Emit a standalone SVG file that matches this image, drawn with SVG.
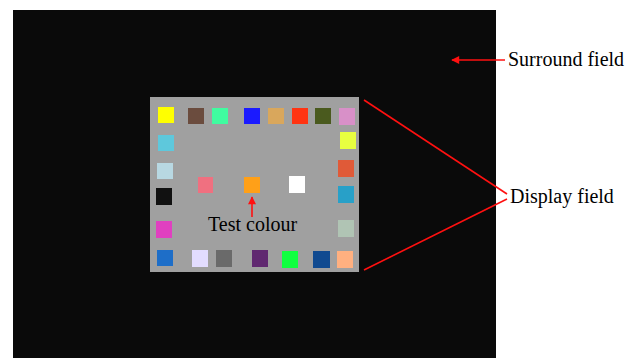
<svg xmlns="http://www.w3.org/2000/svg" width="632" height="358" viewBox="0 0 632 358">
<defs>
<marker id="ah" viewBox="0 0 10 10" refX="9" refY="5" markerWidth="10" markerHeight="8" markerUnits="userSpaceOnUse" orient="auto">
<path d="M0,0 L10,5 L0,10 z" fill="#ff1010"/>
</marker>
</defs>
<style>
.lbl{font-family:"Liberation Serif","Times New Roman",serif;font-size:20px;fill:#000}
.con{stroke:#ff1010;stroke-width:1.6;fill:none}
.sq{stroke:none}
</style>
<rect width="632" height="358" fill="#ffffff"/>
<g id="surround">
<rect x="13" y="10" width="483" height="348" fill="#0a0a0a"/>
</g>
<g id="display">
<rect x="150" y="97" width="209" height="175" fill="#a0a0a0"/>
<g class="sq">
<rect x="158" y="107" width="16" height="16" fill="#ffff00"/>
<rect x="188" y="108" width="16" height="16" fill="#6b4c3e"/>
<rect x="212" y="108" width="16" height="16" fill="#40fca0"/>
<rect x="244" y="108" width="16" height="16" fill="#1a1aff"/>
<rect x="268" y="108" width="16" height="16" fill="#d9a75c"/>
<rect x="292" y="108" width="16" height="16" fill="#ff3412"/>
<rect x="315" y="108" width="16" height="16" fill="#4a5a1e"/>
<rect x="339" y="108" width="16" height="17" fill="#d890c8"/>
<rect x="158" y="135" width="16" height="16" fill="#5ec8dc"/>
<rect x="157" y="163" width="16" height="16" fill="#b8d8e2"/>
<rect x="156" y="188" width="16" height="17" fill="#111111"/>
<rect x="156" y="221" width="16" height="17" fill="#e040c0"/>
<rect x="157" y="250" width="16" height="16" fill="#1e6ec8"/>
<rect x="192" y="250" width="16" height="17" fill="#e2dcff"/>
<rect x="216" y="250" width="16" height="17" fill="#6a6a6a"/>
<rect x="252" y="250" width="16" height="17" fill="#602870"/>
<rect x="282" y="251" width="16" height="17" fill="#10ff40"/>
<rect x="313" y="251" width="17" height="17" fill="#104a90"/>
<rect x="337" y="251" width="16" height="17" fill="#ffb080"/>
<rect x="340" y="132" width="16" height="17" fill="#e8ff40"/>
<rect x="338" y="160" width="16" height="17" fill="#e05a38"/>
<rect x="338" y="186" width="16" height="17" fill="#28a0c8"/>
<rect x="338" y="220" width="16" height="17" fill="#b0c4b4"/>
<rect x="198" y="177" width="15" height="16" fill="#f07080"/>
<rect x="244" y="177" width="16" height="16" fill="#ffa018"/>
<rect x="289" y="176" width="16" height="17" fill="#ffffff"/>
</g>
<text class="lbl" x="208" y="231">Test colour</text>
</g>
<g id="label-surround">
<text class="lbl" x="508" y="66">Surround field</text>
</g>
<g id="label-display">
<text class="lbl" x="510" y="203">Display field</text>
</g>
<g id="connectors">
<line class="con" x1="252" y1="217" x2="252" y2="197" marker-end="url(#ah)"/>
<line class="con" x1="505" y1="60" x2="452" y2="60" marker-end="url(#ah)"/>
<line class="con" x1="364" y1="100" x2="507" y2="194"/>
<line class="con" x1="364" y1="270" x2="507" y2="199"/>
</g>
</svg>
